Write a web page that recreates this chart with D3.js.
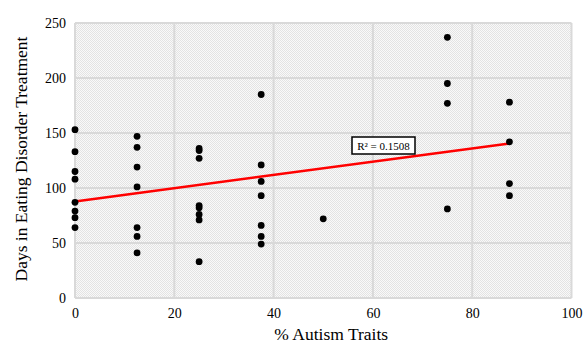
<!DOCTYPE html>
<html><head><meta charset="utf-8">
<script src="https://cdn.jsdelivr.net/npm/d3@7"></script>
<style>body{margin:0;background:#fff}svg{display:block}text{font-family:"Liberation Serif","Times New Roman",Times,serif !important;fill:#000}</style>
</head><body><svg id="c" width="587" height="345"></svg>
<script>
const autismPct = [0,0,0,0,0,0,0,0, 12.5,12.5,12.5,12.5,12.5,12.5,12.5, 25,25,25,25,25,25,25,25, 37.5,37.5,37.5,37.5,37.5,37.5,37.5, 50, 75,75,75,75, 87.5,87.5,87.5,87.5];
const edDays    = [153,133,115,108,87,79,73,64, 147,137,119,101,64,56,41, 136,134,127,84,82,76,71,33, 185,121,106,93,66,56,49, 72, 237,195,177,81, 178,142,104,93];
const xTicks = [0,20,40,60,80,100];
const yTicks = [0,50,100,150,200,250];
const xTitle = "% Autism Traits";
const yTitle = "Days in Eating Disorder Treatment";
const r2Label = "R² = 0.1508";

const svg = d3.select("#c");
const L=75, R=571.5, T=23, B=298;
const x = d3.scaleLinear().domain([0,100]).range([L,R]);
const y = d3.scaleLinear().domain([0,250]).range([B,T]);

const defs = svg.append("defs");
const pat = defs.append("pattern").attr("id","hatch").attr("patternUnits","userSpaceOnUse").attr("width",2).attr("height",2);
pat.append("rect").attr("width",2).attr("height",2).attr("fill","#f9f9f9");
pat.append("rect").attr("x",0).attr("y",0).attr("width",1).attr("height",1).attr("fill","#e3e3e3");
pat.append("rect").attr("x",1).attr("y",1).attr("width",1).attr("height",1).attr("fill","#e3e3e3");

svg.append("rect").attr("x",L).attr("y",T).attr("width",R-L).attr("height",B-T).attr("fill","url(#hatch)");

const g = svg.append("g");
g.selectAll(".gx").data(xTicks).join("line").attr("x1",d=>x(d)).attr("x2",d=>x(d)).attr("y1",T).attr("y2",B).attr("stroke","#d9d9d9").attr("stroke-width",2);
g.selectAll(".gy").data(yTicks).join("line").attr("y1",d=>y(d)).attr("y2",d=>y(d)).attr("x1",L).attr("x2",R).attr("stroke","#d9d9d9").attr("stroke-width",2);

const xa = svg.append("g").attr("transform",`translate(0,${B})`).call(d3.axisBottom(x).tickValues(xTicks).tickSize(0).tickPadding(10).tickFormat(d3.format("d")));
xa.attr("font-family",null).attr("font-size",null);
xa.select(".domain").remove();
xa.selectAll("text").style("font-size","14px");
const ya = svg.append("g").attr("transform",`translate(${L},0)`).call(d3.axisLeft(y).tickValues(yTicks).tickSize(0).tickPadding(9).tickFormat(d3.format("d")));
ya.attr("font-family",null).attr("font-size",null);
ya.select(".domain").remove();
ya.selectAll("text").style("font-size","14px");

// regression
const n = autismPct.length;
const mx = d3.mean(autismPct), my = d3.mean(edDays);
let sxy=0,sxx=0; for(let i=0;i<n;i++){sxy+=(autismPct[i]-mx)*(edDays[i]-my);sxx+=(autismPct[i]-mx)**2;}
const slope = sxy/sxx, icpt = my-slope*mx;
const xMax = d3.max(autismPct);
svg.append("path").attr("d",d3.line()([[x(0),y(icpt)],[x(xMax),y(icpt+slope*xMax)]])).attr("stroke","#ff0000").attr("stroke-width",2.5).attr("fill","none");

svg.append("g").selectAll("circle").data(autismPct.map((d,i)=>[d,edDays[i]])).join("circle")
  .attr("cx",d=>x(d[0])).attr("cy",d=>y(d[1])).attr("r",3.4).attr("fill","#000");

const lb = svg.append("g");
lb.append("rect").attr("x",352).attr("y",137).attr("width",63).attr("height",17).attr("fill","#fff").attr("stroke","#000").attr("stroke-width",1.5);
lb.append("text").attr("x",383.5).attr("y",150).attr("text-anchor","middle").style("font-size","11px").text(r2Label);

svg.append("text").attr("x",(L+R)/2+8).attr("y",340).attr("text-anchor","middle").style("font-size","17.5px").text(xTitle);
svg.append("text").attr("transform",`translate(27,${159}) rotate(-90)`).attr("text-anchor","middle").style("font-size","17.5px").text(yTitle);
</script></body></html>
